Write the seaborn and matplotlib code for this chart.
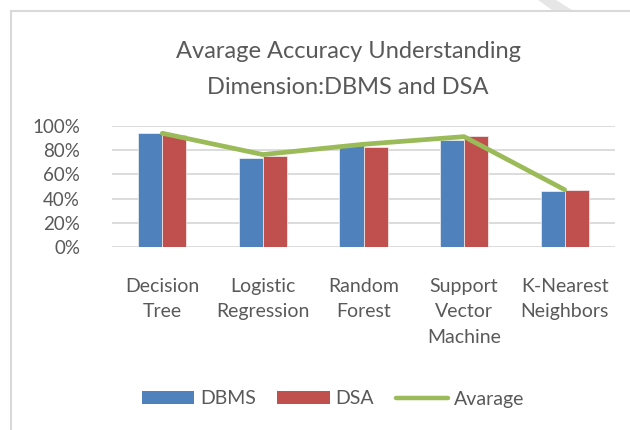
import matplotlib
matplotlib.use("Agg")
import matplotlib.pyplot as plt
from matplotlib.patches import Patch, Rectangle, Polygon
from matplotlib.lines import Line2D
import seaborn as sns
import pandas as pd

categories = ["Decision\nTree", "Logistic\nRegression", "Random\nForest",
              "Support\nVector\nMachine", "K-Nearest\nNeighbors"]
dbms = [0.945, 0.734, 0.843, 0.885, 0.464]
dsa = [0.926, 0.755, 0.824, 0.918, 0.473]
average = [0.94, 0.764, 0.849, 0.912, 0.473]
series_names = ["DBMS", "DSA", "Avarage"]
yticks = [0, 0.2, 0.4, 0.6, 0.8, 1.0]
ytick_labels = ["0%", "20%", "40%", "60%", "80%", "100%"]
title_lines = ["Avarage Accuracy Understanding", "Dimension:DBMS and DSA"]

colors = {"DBMS": "#4F81BD", "DSA": "#C0504D"}
line_color = "#9BBB59"
text_color = "#595959"

sns.set_theme(style="white")
plt.rcParams["font.family"] = ["Lato", "DejaVu Sans"]

df = pd.DataFrame({
    "Model": categories * 2,
    "Value": dbms + dsa,
    "Series": [series_names[0]] * len(categories) + [series_names[1]] * len(categories),
})

fig = plt.figure(figsize=(6.3, 4.3), dpi=100)
W, H = 630, 430
ax = fig.add_axes([112 / W, 1 - 247 / H, (615 - 112) / W, (247 - 126) / H])

# outer frame and watermark artifact
fig.patches.append(Rectangle((11 / W, -0.1), 1.2, 1 - 11 / H + 0.1, transform=fig.transFigure,
                             fill=False, edgecolor="#D9D9D9", linewidth=1.5, zorder=0))
fig.patches.append(Polygon([(538 / W, 1.0), (556 / W, 1.0), (572 / W, 1 - 10 / H), (552 / W, 1 - 10 / H)],
                           closed=True, transform=fig.transFigure, facecolor="#E6E6E6",
                           edgecolor="none", zorder=0))

sns.barplot(data=df, x="Model", y="Value", hue="Series", order=categories,
            hue_order=series_names[:2], palette=colors, saturation=1, width=0.48, ax=ax,
            edgecolor="#F2F2F2", linewidth=0.5, legend=False, zorder=3)
sns.pointplot(x=categories, y=average, order=categories, color=line_color, markers="",
              linewidth=3.4, solid_capstyle="round", ax=ax, zorder=4)

ax.set_ylim(0, 1)
ax.set_xlim(-0.5, len(categories) - 0.5)
ax.set_yticks(yticks)
ax.set_yticklabels(ytick_labels, fontsize=13.5, color=text_color)
ax.set_xticks(range(len(categories)))
ax.set_xticklabels(categories, fontsize=14, color=text_color, linespacing=1.62, va="top")
ax.tick_params(axis="both", length=0)
ax.tick_params(axis="y", pad=23)
ax.tick_params(axis="x", pad=22)
ax.set_xlabel("")
ax.set_ylabel("")
for s in ax.spines.values():
    s.set_visible(False)
ax.yaxis.grid(True, color="#D9D9D9", linewidth=1.3, zorder=0)
ax.set_axisbelow(True)

fig.text(348 / W, 1 - 52 / H, title_lines[0], ha="center", va="center", fontsize=17,
         color=text_color)
fig.text(348 / W, 1 - 88 / H, title_lines[1], ha="center", va="center", fontsize=17,
         color=text_color)

handles = [Patch(facecolor=colors["DBMS"], edgecolor="none"),
           Patch(facecolor=colors["DSA"], edgecolor="none"),
           Line2D([0], [0], color=line_color, linewidth=3.2)]
leg = fig.legend(handles, series_names, loc="center", bbox_to_anchor=(333 / W, 1 - 399 / H),
                 ncol=3, frameon=False, fontsize=14, handlelength=2.7, handleheight=0.6,
                 handletextpad=0.3, columnspacing=1.1, labelcolor=text_color)

fig.savefig("out.png", dpi=100)
